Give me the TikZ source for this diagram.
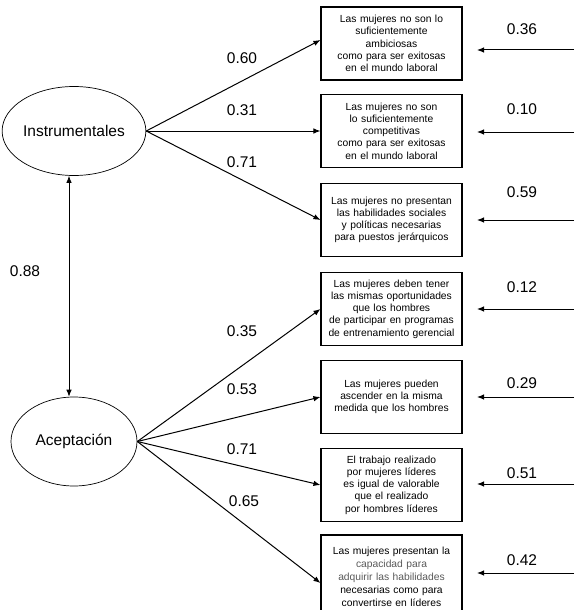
\documentclass[tikz,border=0pt]{standalone}
\usepackage{fontspec}
\setmainfont{Liberation Sans}
\usetikzlibrary{arrows.meta,calc,shapes.geometric}
\begin{document}
\begin{tikzpicture}[x=1pt,y=-1pt,
  lat/.style={draw,ellipse,minimum width=126pt,minimum height=89pt,inner sep=0pt,line width=0.7pt,font=\fontsize{15.5}{18}\selectfont},
  itembox/.style={draw,rectangle,line width=1.1pt,minimum width=141pt,minimum height=73pt,text width=138pt,align=center,inner sep=0pt,font=\fontsize{10.3}{12.2}\selectfont},
  num/.style={font=\fontsize{15.5}{18}\selectfont,inner sep=0pt},
  arr/.style={line width=1pt,-{Latex[length=7pt,width=5.5pt]}},
  darr/.style={line width=0.8pt,{Latex[length=7pt,width=5.5pt]}-{Latex[length=7pt,width=5.5pt]}}]
\useasboundingbox (0,0) rectangle (574,610);
% latent variables
\node[lat] (I) at (74,131) {Instrumentales};
\node[lat] (A) at (74,441.5) {Aceptación};
% item boxes
\node[itembox] (b1) at (391.5,43.5) {Las mujeres no son lo\\suficientemente\\ambiciosas\\como para ser exitosas\\en el mundo laboral};
\node[itembox] (b2) at (391.5,131) {Las mujeres no son\\lo suficientemente\\competitivas\\como para ser exitosas\\en el mundo laboral};
\node[itembox] (b3) at (391.5,220) {Las mujeres no presentan\\las habilidades sociales\\y políticas necesarias\\para puestos jerárquicos};
\node[itembox] (b4) at (391.5,309) {Las mujeres deben tener\\las mismas oportunidades\\que los hombres\\de participar en programas\\de entrenamiento gerencial};
\node[itembox] (b5) at (391.5,397) {Las mujeres pueden\\ascender en la misma\\medida que los hombres};
\node[itembox] (b6) at (391.5,485) {El trabajo realizado\\por mujeres líderes\\es igual de valorable\\que el realizado\\por hombres líderes};
\node[itembox,minimum height=84pt,font=\fontsize{10.3}{13.1}\selectfont] (b7) at (391.5,577) {Las mujeres presentan la\\\textcolor{black!65}{capacidad para}\\\textcolor{black!65}{adquirir las habilidades}\\necesarias como para\\convertirse en líderes};
% loadings
\draw[arr] (I.east) -- ([yshift=3.5pt]b1.west);
\draw[arr] (I.east) -- (b2.west);
\draw[arr] (I.east) -- (b3.west);
\draw[arr] (A.east) -- (b4.west);
\draw[arr] (A.east) -- (b5.west);
\draw[arr] (A.east) -- (b6.west);
\draw[arr] (A.east) -- ([yshift=-6pt]b7.west);
\draw[darr] ([xshift=-5pt]I.south) -- ([xshift=-5pt]A.north);
% loading labels
\node[num] (l1) at (242,58) {0.60};
\node[num] (l2) at (242,110) {0.31};
\node[num] (l3) at (242,162) {0.71};
\node[num] (l4) at (242,331) {0.35};
\node[num] (l5) at (242,389) {0.53};
\node[num] (l6) at (242,449) {0.71};
\node[num] (l7) at (244,501) {0.65};
\node[num] (lc) at (25,271) {0.88};
% error terms
\foreach \i/\y/\ly/\v in {1/50/29/0.36,2/132/109/0.10,3/220/192/0.59,4/309/287/0.12,5/397/383/0.29,6/484/473/0.51,7/573/560/0.42}{
  \coordinate (s\i) at (574,\y);
  \coordinate (t\i) at (477,\y);
  \draw[arr] (s\i) -- (t\i);
  \node[num] (e\i) at (522,\ly) {\v};
}
\end{tikzpicture}
\end{document}
